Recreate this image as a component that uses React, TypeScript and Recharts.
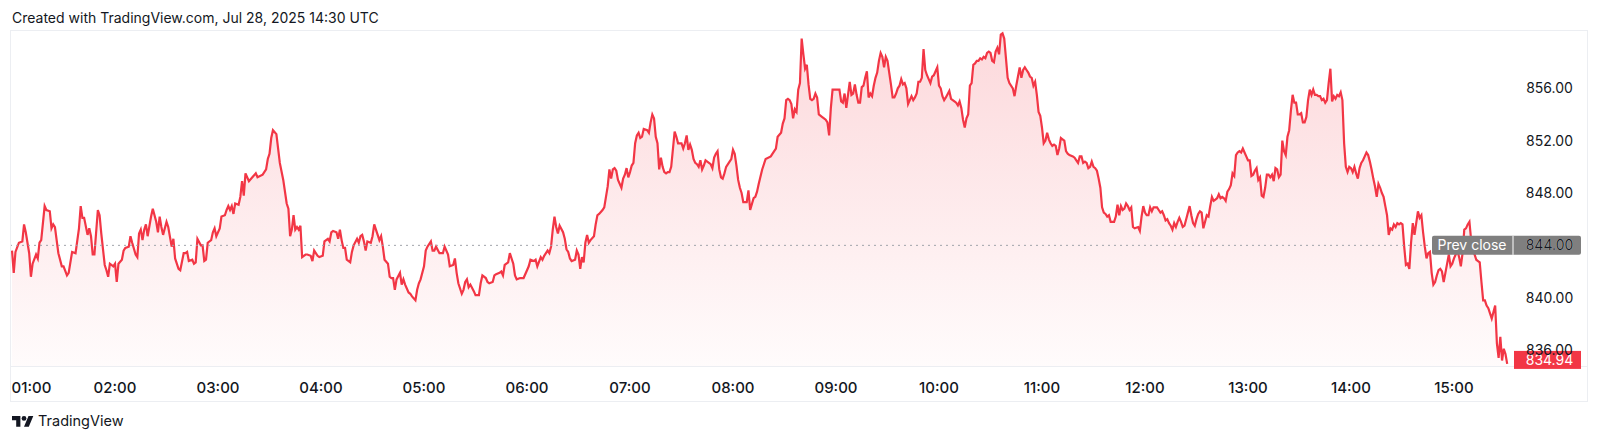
import React from 'react';
import { ComposedChart, Area, XAxis, YAxis, ReferenceLine } from 'recharts';

// [minutes after 01:00, price]
const series: [number, number][] = [
  [0, 843.6], [1, 841.9], [2, 843.5], [4, 844.2], [6, 844.3], [7, 845.6], [8, 845.0], [10, 843.4], [11, 841.6], [12, 842.6],
  [14, 843.3], [15, 843.0], [16, 844.2], [17, 844.4], [19, 847.0], [20, 846.7], [22, 846.6], [23, 845.3], [24, 845.6], [25, 845.4],
  [27, 843.4], [29, 842.4], [30, 842.4], [32, 841.7], [33, 841.9], [35, 843.5], [37, 843.4], [39, 845.3], [40, 847.0], [41, 846.1],
  [42, 846.1], [44, 844.8], [45, 845.3], [46, 844.7], [47, 843.3], [48, 843.3], [50, 846.7], [51, 846.3], [52, 844.9], [54, 842.5],
  [55, 842.1], [56, 841.6], [57, 842.6], [59, 842.4], [60, 842.6], [61, 841.2], [62, 842.6], [64, 842.9], [65, 843.6], [66, 843.8],
  [68, 843.9], [69, 844.7], [70, 844.2], [72, 843.3], [73, 843.1], [74, 844.9], [75, 845.2], [76, 844.4], [77, 845.2], [78, 845.6],
  [79, 844.7], [81, 846.2], [82, 846.8], [84, 845.8], [85, 845.0], [86, 846.2], [87, 845.4], [88, 844.8], [90, 845.8], [91, 845.4],
  [93, 843.9], [94, 844.5], [95, 843.0], [97, 842.2], [98, 842.1], [100, 843.4], [101, 843.4], [102, 843.5], [103, 842.8], [105, 842.9],
  [106, 842.6], [107, 842.7], [108, 844.5], [110, 844.0], [111, 844.0], [112, 842.8], [113, 842.9], [114, 844.2], [116, 844.4], [117, 845.0],
  [118, 845.3], [119, 844.7], [121, 845.3], [122, 846.2], [124, 846.3], [125, 846.7], [126, 847.0], [127, 846.7], [128, 847.0], [129, 846.4],
  [130, 847.2], [132, 847.1], [133, 847.7], [134, 848.9], [135, 847.8], [136, 849.5], [138, 848.9], [140, 849.2], [142, 849.5], [143, 849.2],
  [146, 849.4], [148, 849.8], [149, 850.6], [150, 851.0], [151, 852.2], [152, 852.8], [154, 852.5], [156, 850.3], [158, 849.0], [160, 847.2],
  [161, 846.8], [162, 844.7], [163, 845.2], [164, 846.3], [165, 845.2], [166, 845.4], [167, 845.2], [168, 845.5], [169, 843.1], [171, 843.3],
  [172, 843.3], [174, 843.2], [175, 842.8], [176, 843.6], [178, 843.2], [179, 843.1], [181, 843.2], [182, 844.3], [184, 844.5], [185, 844.3],
  [186, 845.0], [187, 845.1], [189, 845.0], [190, 844.5], [191, 845.2], [192, 844.4], [193, 843.8], [194, 843.8], [195, 842.9], [197, 842.7],
  [198, 843.5], [199, 844.0], [201, 844.5], [202, 844.2], [203, 844.7], [204, 844.8], [205, 844.3], [206, 843.6], [207, 844.3], [209, 844.2],
  [210, 844.7], [211, 845.6], [213, 844.8], [214, 844.4], [215, 844.7], [216, 843.9], [217, 842.9], [219, 842.6], [220, 841.6], [221, 841.5],
  [222, 841.5], [223, 840.6], [224, 841.4], [226, 841.9], [227, 841.0], [228, 841.4], [229, 841.0], [231, 840.4], [232, 840.3], [233, 840.1],
  [235, 839.8], [236, 840.6], [237, 841.1], [238, 841.4], [240, 842.4], [241, 843.6], [242, 843.9], [244, 844.3], [245, 843.6], [246, 843.6],
  [247, 843.9], [249, 843.4], [250, 843.4], [251, 843.4], [252, 843.9], [254, 843.3], [255, 842.4], [257, 842.5], [258, 843.0], [259, 841.9],
  [260, 841.1], [262, 840.3], [263, 840.6], [264, 841.2], [265, 841.4], [266, 840.8], [267, 841.0], [269, 840.5], [270, 840.2], [272, 840.2],
  [273, 841.1], [274, 841.7], [276, 841.5], [277, 841.2], [278, 841.1], [280, 841.2], [281, 841.7], [282, 841.8], [284, 841.9], [285, 842.0],
  [286, 841.7], [287, 842.5], [289, 842.7], [290, 843.4], [292, 842.6], [293, 841.7], [294, 841.4], [296, 841.5], [298, 841.5], [300, 842.1],
  [301, 842.4], [302, 842.9], [304, 842.8], [305, 842.9], [306, 842.4], [308, 843.1], [309, 842.9], [310, 843.2], [312, 843.6], [313, 843.4],
  [314, 843.9], [315, 845.2], [316, 846.2], [317, 845.4], [318, 844.9], [319, 845.5], [321, 845.0], [322, 844.5], [323, 843.7], [324, 843.5],
  [325, 843.0], [326, 842.8], [328, 842.9], [329, 843.6], [330, 843.3], [331, 842.2], [332, 843.1], [333, 842.7], [334, 844.2], [335, 844.8],
  [336, 844.2], [337, 844.4], [339, 844.7], [340, 845.6], [341, 846.3], [342, 846.4], [344, 846.7], [345, 846.9], [346, 847.7], [347, 848.5],
  [348, 849.8], [349, 849.1], [350, 849.8], [351, 849.9], [352, 849.7], [353, 849.0], [355, 848.4], [356, 849.1], [357, 849.4], [358, 849.9],
  [359, 849.2], [360, 849.6], [361, 850.1], [362, 850.3], [363, 851.8], [364, 852.4], [365, 852.6], [366, 852.2], [367, 852.3], [368, 852.9],
  [370, 852.8], [371, 852.6], [372, 853.4], [373, 854.0], [374, 853.7], [375, 852.3], [376, 851.8], [377, 849.8], [378, 850.7], [379, 850.0],
  [380, 849.6], [381, 849.5], [382, 849.6], [383, 849.6], [384, 850.0], [386, 852.7], [387, 852.3], [388, 851.8], [390, 851.8], [391, 851.4],
  [392, 851.8], [393, 852.4], [394, 851.3], [395, 851.7], [396, 851.3], [397, 850.6], [398, 850.3], [399, 850.2], [400, 850.0], [401, 850.5],
  [402, 849.8], [403, 850.1], [404, 850.5], [405, 850.4], [407, 850.2], [408, 849.9], [409, 850.7], [410, 851.0], [411, 851.2], [412, 849.8],
  [413, 849.2], [414, 849.1], [415, 849.5], [416, 850.0], [418, 850.4], [419, 850.6], [420, 851.3], [421, 851.0], [422, 850.1], [423, 849.0],
  [424, 848.4], [425, 848.0], [426, 847.3], [428, 847.3], [429, 848.2], [430, 846.7], [432, 847.6], [433, 847.7], [434, 848.1], [435, 848.7],
  [437, 849.8], [439, 850.6], [442, 850.8], [444, 851.2], [445, 851.4], [446, 852.3], [448, 852.6], [449, 853.3], [450, 853.7], [451, 855.1],
  [452, 855.2], [453, 855.1], [454, 854.8], [455, 853.7], [456, 854.4], [457, 854.2], [458, 855.9], [459, 856.4], [460, 859.8], [461, 858.6],
  [462, 857.5], [463, 857.8], [464, 856.3], [465, 855.2], [466, 855.1], [467, 855.2], [468, 855.6], [469, 855.3], [470, 854.0], [472, 853.8],
  [473, 853.7], [474, 853.6], [475, 853.4], [476, 852.4], [477, 854.5], [478, 855.9], [479, 855.9], [480, 855.9], [482, 855.9], [483, 855.0],
  [484, 854.9], [485, 855.6], [486, 854.5], [487, 855.5], [488, 856.5], [489, 855.5], [490, 855.6], [491, 856.3], [492, 855.5], [493, 854.9],
  [494, 854.9], [495, 856.1], [496, 856.2], [497, 856.8], [498, 857.3], [499, 855.3], [500, 855.6], [501, 855.4], [502, 856.2], [503, 856.8],
  [504, 857.2], [505, 858.1], [506, 858.7], [507, 858.4], [508, 857.6], [509, 858.4], [510, 858.1], [511, 857.2], [512, 856.3], [513, 855.3],
  [514, 855.3], [515, 855.6], [516, 856.0], [517, 856.2], [518, 856.7], [519, 856.3], [520, 856.4], [521, 856.0], [522, 854.8], [524, 855.4],
  [525, 855.1], [526, 855.3], [527, 855.6], [528, 856.5], [529, 856.5], [530, 856.8], [531, 859.0], [532, 857.4], [533, 857.0], [534, 856.7],
  [535, 856.4], [536, 856.9], [537, 857.0], [538, 857.3], [539, 857.6], [540, 856.2], [541, 856.0], [542, 855.4], [543, 855.1], [544, 855.3],
  [546, 855.8], [547, 855.2], [548, 855.1], [549, 855.0], [550, 854.9], [551, 854.7], [552, 855.0], [553, 854.5], [554, 853.6], [555, 853.0],
  [556, 853.7], [557, 854.0], [558, 856.2], [559, 856.4], [560, 857.8], [561, 857.9], [562, 858.1], [563, 858.1], [564, 858.3], [565, 858.2],
  [566, 858.4], [567, 858.3], [568, 858.7], [569, 858.8], [570, 858.7], [571, 858.1], [572, 858.0], [573, 858.8], [574, 859.1], [575, 858.6],
  [576, 860.1], [577, 860.2], [578, 859.8], [579, 858.3], [580, 856.8], [581, 856.4], [583, 856.0], [584, 855.4], [585, 856.2], [586, 856.9],
  [587, 857.6], [588, 856.8], [589, 857.4], [590, 857.6], [591, 857.4], [592, 857.2], [593, 856.9], [594, 856.8], [595, 856.2], [596, 856.5],
  [597, 855.5], [598, 854.2], [599, 853.9], [600, 853.0], [601, 851.8], [602, 852.0], [603, 852.6], [604, 852.1], [605, 851.8], [606, 851.6],
  [607, 851.7], [608, 851.6], [609, 850.9], [610, 851.4], [611, 852.2], [612, 852.1], [613, 852.0], [614, 851.2], [615, 851.0], [616, 850.9],
  [618, 850.8], [619, 850.7], [620, 850.5], [621, 850.3], [622, 850.8], [623, 850.8], [624, 850.3], [625, 850.4], [626, 850.3], [627, 849.9],
  [628, 850.0], [629, 850.4], [630, 850.0], [631, 849.9], [632, 849.7], [633, 849.1], [634, 848.4], [635, 846.9], [636, 846.5], [637, 846.4],
  [638, 846.2], [639, 846.3], [640, 845.8], [641, 845.8], [642, 845.8], [643, 846.2], [644, 847.1], [645, 846.3], [646, 847.0], [647, 846.7],
  [648, 846.8], [649, 847.2], [650, 847.0], [651, 846.7], [652, 846.9], [653, 845.4], [654, 845.3], [656, 845.4], [657, 845.1], [658, 846.2],
  [659, 847.0], [660, 846.5], [661, 846.3], [662, 846.3], [663, 846.9], [664, 846.6], [665, 846.9], [667, 846.9], [668, 846.7], [669, 846.5],
  [670, 846.6], [671, 846.3], [672, 845.9], [673, 846.0], [674, 845.7], [675, 845.5], [676, 845.2], [677, 845.7], [678, 845.4], [679, 845.8],
  [680, 846.1], [681, 845.8], [682, 845.4], [683, 845.5], [684, 846.0], [685, 846.5], [686, 847.0], [687, 846.3], [688, 845.7], [689, 845.5],
  [690, 846.0], [691, 846.4], [692, 846.6], [693, 846.5], [694, 845.3], [695, 845.8], [696, 846.3], [697, 846.2], [698, 847.0], [699, 847.7],
  [700, 847.4], [701, 847.5], [702, 847.6], [703, 847.9], [704, 847.6], [705, 847.7], [706, 847.6], [707, 847.4], [708, 848.1], [709, 848.3],
  [710, 848.6], [711, 849.5], [712, 849.3], [713, 850.9], [714, 851.1], [715, 851.2], [716, 851.1], [717, 851.4], [718, 851.1], [719, 850.8],
  [720, 850.5], [721, 850.5], [722, 849.3], [723, 849.4], [724, 849.7], [725, 849.9], [726, 849.0], [727, 849.2], [728, 847.8], [729, 847.7],
  [730, 848.4], [731, 849.4], [732, 849.4], [733, 849.2], [734, 849.4], [735, 848.9], [736, 849.9], [737, 849.8], [738, 849.2], [739, 849.4],
  [740, 852.0], [741, 851.2], [742, 850.9], [743, 852.3], [744, 852.8], [745, 854.3], [746, 855.5], [747, 854.9], [748, 854.9], [749, 854.0],
  [750, 854.0], [751, 854.1], [752, 853.4], [753, 853.4], [754, 853.8], [755, 855.1], [756, 855.9], [757, 855.5], [758, 855.9], [759, 855.5],
  [760, 855.5], [761, 855.4], [762, 855.4], [763, 855.1], [764, 855.2], [765, 854.9], [766, 855.1], [767, 856.4], [768, 857.5], [769, 855.0],
  [770, 855.4], [771, 855.2], [772, 855.5], [773, 855.4], [774, 855.7], [775, 855.1], [776, 851.8], [777, 850.0], [778, 849.6], [779, 850.0],
  [780, 849.9], [781, 849.6], [782, 850.0], [783, 849.5], [784, 849.1], [785, 849.9], [786, 850.3], [787, 850.5], [788, 850.8], [789, 851.1],
  [790, 850.9], [791, 850.4], [792, 849.8], [793, 849.1], [794, 848.5], [795, 847.7], [796, 848.7], [797, 848.4], [798, 848.0], [799, 847.7],
  [800, 847.0], [801, 846.3], [802, 844.8], [803, 845.3], [804, 845.2], [805, 845.6], [806, 845.4], [807, 845.7], [808, 845.6], [809, 845.7],
  [810, 845.6], [811, 843.9], [812, 842.5], [813, 842.6], [814, 842.2], [815, 844.2], [816, 845.7], [817, 844.8], [818, 845.7], [819, 846.6],
  [820, 846.1], [821, 846.3], [822, 845.0], [823, 843.9], [824, 843.0], [825, 843.4], [826, 843.5], [827, 841.9], [828, 841.0], [829, 841.2],
  [830, 841.7], [831, 842.1], [832, 842.2], [833, 842.0], [834, 841.2], [835, 841.9], [836, 842.6], [837, 843.3], [838, 842.4], [839, 842.6],
  [840, 843.0], [841, 843.3], [842, 843.6], [843, 843.1], [844, 842.4], [845, 843.4], [846, 845.2], [847, 845.3], [848, 845.6], [849, 845.8],
  [850, 844.4], [851, 843.6], [852, 843.3], [853, 842.9], [854, 842.8], [855, 842.7], [856, 841.2], [857, 839.8], [858, 839.8], [859, 839.4],
  [860, 839.2], [861, 838.8], [862, 838.4], [863, 838.9], [864, 839.4], [865, 836.5], [866, 835.4], [867, 837.0], [868, 835.2], [869, 836.1],
  [870, 835.7], [871, 834.94],
];

const hourTicks = [0, 60, 120, 180, 240, 300, 360, 420, 480, 540, 600, 660, 720, 780, 840];
const hourLabels = ['01:00', '02:00', '03:00', '04:00', '05:00', '06:00', '07:00', '08:00', '09:00', '10:00', '11:00', '12:00', '13:00', '14:00', '15:00'];
const priceTicks = [836, 840, 844, 848, 852, 856];
const prevClose = 844;
const lastPrice = 834.94;
const priceDomain: [number, number] = [834.78, 860.38];
const minuteDomain: [number, number] = [-0.6, 873.8];

const RED = '#f23645';
const TEXT = '#131722';
const FONT = 'Inter, "Noto Sans", sans-serif';

const chartData = series.map(([m, p]) => ({ m, p }));

const TimeTick = (props: any) => {
  const { x, y, payload } = props;
  const i = hourTicks.indexOf(payload.value);
  const first = i === 0;
  return (
    <text x={first ? x - 0.5 : x} y={y + 27} textAnchor={first ? 'start' : 'middle'} fill={TEXT} fontSize={15} fontWeight={500} fontFamily={FONT}>
      {hourLabels[i]}
    </text>
  );
};

const PriceTick = (props: any) => {
  const { x, y, payload } = props;
  return (
    <text x={x + 37.5} y={y + 5} textAnchor="middle" fill={TEXT} fontSize={14} fontFamily={FONT}>
      {payload.value.toFixed(2)}
    </text>
  );
};

const PrevCloseLabel = (props: any) => {
  const { x, y, width } = props.viewBox;
  const right = x + width;
  return (
    <g>
      <rect x={right - 80} y={y - 9.5} width={149} height={19} rx={2} fill="#7f7f7f" />
      <line x1={right + 1} x2={right + 1} y1={y - 9.5} y2={y + 9.5} stroke="#fff" strokeWidth={1} />
      <text x={right - 40} y={y + 5} textAnchor="middle" fill="#fff" fontSize={14} fontFamily={FONT}>Prev close</text>
      <text x={right + 37.5} y={y + 5} textAnchor="middle" fill="#fff" fontSize={14} fontFamily={FONT}>{prevClose.toFixed(2)}</text>
    </g>
  );
};

const LastPriceLabel = (props: any) => {
  const { x, y, width } = props.viewBox;
  const right = x + width;
  return (
    <g>
      <rect x={right + 2} y={y - 13} width={67} height={18} fill={RED} />
      <text x={right + 37.5} y={y + 1} textAnchor="middle" fill="#fff" fontSize={14} fontFamily={FONT}>{lastPrice.toFixed(2)}</text>
    </g>
  );
};

export default function App() {
  return (
    <div style={{ position: 'absolute', left: 0, top: 0, width: 1600, height: 443, background: '#fff', fontFamily: FONT }}>
      <svg width={1600} height={443} style={{ position: 'absolute', left: 0, top: 0 }}>
        <text x={12} y={23} fontSize={14} fill={TEXT} fontFamily={FONT}>Created with TradingView.com, Jul 28, 2025 14:30 UTC</text>
        <rect x={10.5} y={30.5} width={1577} height={371} fill="none" stroke="#eceef2" />
        <line x1={11} x2={1588} y1={366.5} y2={366.5} stroke="#eceef2" />
        <g transform="translate(12, 413.6) scale(0.6)" fill={TEXT}>
          <path d="M14 22H7V11H0V4h14v18zM28 22h-8l7.5-18h8L28 22z" />
          <circle cx={20} cy={8} r={4} />
        </g>
        <text x={38} y={426} fontSize={14.5} fill={TEXT} fontFamily={FONT}>TradingView</text>
      </svg>
      <div style={{ position: 'absolute', left: 11, top: 31 }}>
        <ComposedChart width={1577} height={371} data={chartData} margin={{ top: 0, right: 0, bottom: 0, left: 0 }}>
          <defs>
            <linearGradient id="tvArea" x1="0" y1="0" x2="0" y2="1">
              <stop offset="0%" stopColor={RED} stopOpacity={0.32} />
              <stop offset="100%" stopColor={RED} stopOpacity={0.03} />
            </linearGradient>
          </defs>
          <XAxis
            dataKey="m"
            type="number"
            domain={minuteDomain}
            allowDataOverflow
            ticks={hourTicks}
            interval={0}
            height={36}
            axisLine={false}
            tickLine={false}
            tickSize={0}
            tickMargin={0}
            tick={<TimeTick />}
          />
          <YAxis
            orientation="right"
            type="number"
            domain={priceDomain}
            allowDataOverflow
            ticks={priceTicks}
            interval={0}
            width={76}
            axisLine={false}
            tickLine={false}
            tickSize={0}
            tickMargin={0}
            tick={<PriceTick />}
          />
          <ReferenceLine y={prevClose} stroke="#a0a3ab" strokeDasharray="2 4" strokeWidth={1} />
          <Area
            type="linear"
            dataKey="p"
            stroke={RED}
            strokeWidth={2.2}
            fill="url(#tvArea)"
            dot={false}
            activeDot={false}
            isAnimationActive={false}
          />
          <ReferenceLine y={prevClose} stroke="none" strokeOpacity={0} label={(p: any) => <PrevCloseLabel {...p} />} />
          <ReferenceLine y={lastPrice} stroke="none" strokeOpacity={0} label={(p: any) => <LastPriceLabel {...p} />} />
        </ComposedChart>
      </div>
    </div>
  );
}
